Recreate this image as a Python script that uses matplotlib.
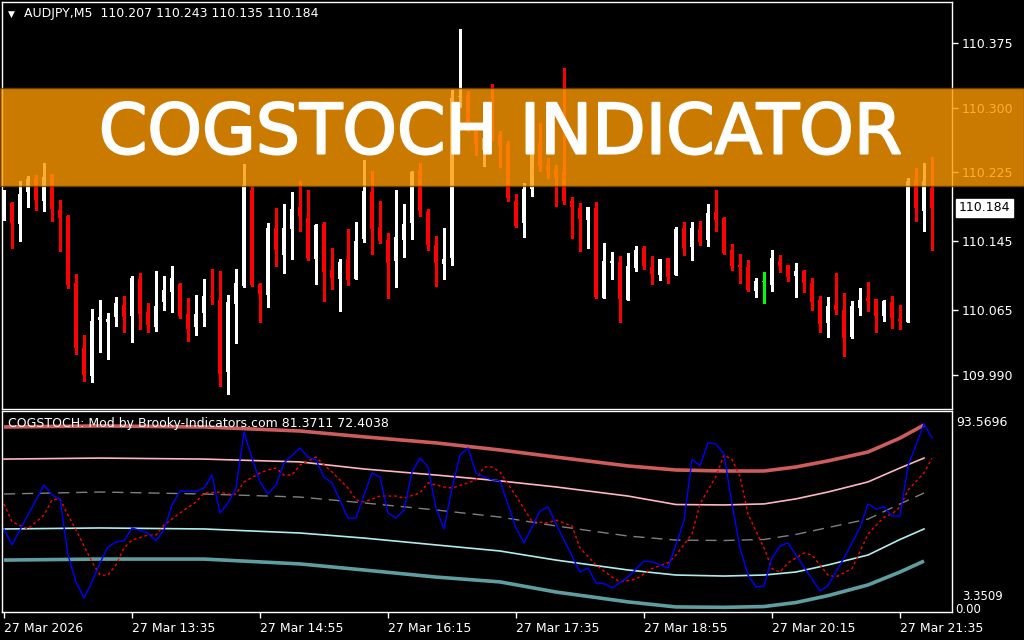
import numpy as np
import matplotlib.pyplot as plt
import matplotlib.patheffects as pe
from matplotlib.patches import Rectangle
from matplotlib.transforms import blended_transform_factory


W, H = 1024, 640

SYMBOL = 'AUDJPY,M5'
INDICATOR_NAME = 'COGSTOCH: Mod by Brooky-Indicators.com'
MAIN_LAST = 81.3711
SIGNAL_LAST = 72.4038
INDICATOR_MAX = 93.5696
INDICATOR_MIN = 3.3509
BANNER_TEXT = 'COGSTOCH INDICATOR'

OPEN = [
    110.173, 110.189, 110.165, 110.202, 110.218, 110.192, 110.222, 110.181, 110.174, 110.097,
    110.021, 109.989, 110.054, 110.051, 110.057, 110.071, 110.058, 110.101, 110.063, 110.046,
    110.075, 110.086, 110.095, 110.061, 110.046, 110.062, 110.082, 110.077, 109.993, 110.072,
    110.093, 110.204, 110.095, 110.083, 110.160, 110.129, 110.159, 110.185, 110.172, 110.124,
    110.165, 110.112, 110.101, 110.124, 110.101, 110.148, 110.202, 110.162, 110.146, 110.122,
    110.146, 110.166, 110.228, 110.179, 110.141, 110.119, 110.126, 110.312, 110.315, 110.274,
    110.251, 110.289, 110.268, 110.258, 110.192, 110.166, 110.206, 110.259, 110.233, 110.229,
    110.225, 110.192, 110.184, 110.170, 110.184, 110.079, 110.120, 110.121, 110.077, 110.114,
    110.137, 110.115, 110.106, 110.126, 110.106, 110.160, 110.138, 110.159, 110.146, 110.179,
    110.172, 110.135, 110.117, 110.115, 110.087, 110.098, 110.094, 110.122, 110.117, 110.105,
    110.110, 110.097, 110.077, 110.050, 110.071, 110.065, 110.034, 110.068, 110.079, 110.078,
    110.058, 110.075, 110.055, 110.051, 110.216, 110.180, 110.207,
]
HIGH = [
    110.204, 110.191, 110.215, 110.221, 110.222, 110.236, 110.223, 110.193, 110.175, 110.107,
    110.036, 110.066, 110.077, 110.062, 110.080, 110.082, 110.105, 110.108, 110.073, 110.110,
    110.105, 110.116, 110.097, 110.079, 110.083, 110.101, 110.113, 110.110, 110.083, 110.113,
    110.235, 110.209, 110.097, 110.166, 110.184, 110.188, 110.202, 110.215, 110.204, 110.165,
    110.167, 110.137, 110.124, 110.159, 110.167, 110.239, 110.227, 110.192, 110.155, 110.204,
    110.188, 110.227, 110.236, 110.182, 110.151, 110.160, 110.320, 110.391, 110.319, 110.282,
    110.274, 110.327, 110.273, 110.261, 110.200, 110.213, 110.268, 110.282, 110.242, 110.233,
    110.346, 110.196, 110.189, 110.185, 110.191, 110.143, 110.133, 110.128, 110.131, 110.139,
    110.139, 110.128, 110.124, 110.126, 110.162, 110.167, 110.167, 110.168, 110.188, 110.204,
    110.173, 110.142, 110.130, 110.123, 110.102, 110.109, 110.135, 110.129, 110.117, 110.120,
    110.112, 110.102, 110.082, 110.080, 110.108, 110.085, 110.076, 110.091, 110.098, 110.078,
    110.077, 110.082, 110.071, 110.218, 110.230, 110.236, 110.243,
]
LOW = [
    110.170, 110.137, 110.145, 110.185, 110.181, 110.180, 110.168, 110.134, 110.091, 110.014,
    109.983, 109.982, 110.017, 110.008, 110.047, 110.040, 110.028, 110.043, 110.040, 110.041,
    110.065, 110.063, 110.056, 110.029, 110.036, 110.047, 110.072, 109.977, 109.968, 110.027,
    110.092, 110.093, 110.051, 110.069, 110.116, 110.108, 110.124, 110.157, 110.123, 110.095,
    110.076, 110.090, 110.064, 110.094, 110.101, 110.144, 110.130, 110.143, 110.079, 110.092,
    110.127, 110.148, 110.174, 110.135, 110.093, 110.101, 110.117, 110.301, 110.273, 110.245,
    110.232, 110.262, 110.231, 110.192, 110.162, 110.150, 110.197, 110.227, 110.218, 110.186,
    110.188, 110.149, 110.134, 110.137, 110.079, 110.079, 110.101, 110.051, 110.077, 110.110,
    110.113, 110.095, 110.100, 110.097, 110.106, 110.129, 110.123, 110.141, 110.139, 110.157,
    110.130, 110.112, 110.097, 110.087, 110.080, 110.073, 110.087, 110.109, 110.099, 110.080,
    110.086, 110.065, 110.040, 110.034, 110.061, 110.012, 110.033, 110.059, 110.064, 110.040,
    110.053, 110.044, 110.043, 110.051, 110.168, 110.157, 110.135,
]
CLOSE = [
    110.191, 110.166, 110.200, 110.217, 110.193, 110.220, 110.182, 110.172, 110.094, 110.021,
    109.990, 110.053, 110.057, 110.055, 110.073, 110.057, 110.102, 110.061, 110.048, 110.070,
    110.088, 110.102, 110.058, 110.043, 110.061, 110.082, 110.080, 109.991, 110.075, 110.097,
    110.210, 110.094, 110.084, 110.160, 110.135, 110.160, 110.182, 110.174, 110.126, 110.164,
    110.109, 110.102, 110.121, 110.100, 110.145, 110.203, 110.159, 110.145, 110.120, 110.150,
    110.165, 110.225, 110.180, 110.141, 110.120, 110.124, 110.311, 110.314, 110.274, 110.258,
    110.265, 110.268, 110.256, 110.195, 110.163, 110.206, 110.261, 110.232, 110.227, 110.218,
    110.192, 110.185, 110.171, 110.185, 110.080, 110.122, 110.122, 110.078, 110.116, 110.135,
    110.116, 110.107, 110.124, 110.103, 110.159, 110.137, 110.160, 110.144, 110.178, 110.170,
    110.131, 110.116, 110.115, 110.088, 110.099, 110.098, 110.126, 110.116, 110.103, 110.110,
    110.097, 110.075, 110.049, 110.070, 110.065, 110.033, 110.070, 110.077, 110.076, 110.058,
    110.076, 110.056, 110.053, 110.215, 110.184, 110.215, 110.184,
]

PRICE_TICKS = [110.375, 110.300, 110.225, 110.145, 110.065, 109.990]
TIME_TICKS = [0, 16, 32, 48, 64, 80, 96, 112]
TIME_LABELS = ['27 Mar 2026', '27 Mar 13:35', '27 Mar 14:55', '27 Mar 16:15',
               '27 Mar 17:35', '27 Mar 18:55', '27 Mar 20:15', '27 Mar 21:35']

# CoG stochastic main line (blue), vertices as (bar, value)
MAIN_X = [0, 1, 5, 6, 7, 8, 9, 10, 11, 12, 13, 14, 15, 16, 18, 19, 20, 21, 22, 23,
          24, 25, 26, 27, 28, 29, 30, 31, 32, 33, 34, 35, 37, 38, 39, 40, 41, 43, 44, 45,
          46, 47, 48, 49, 50, 51, 52, 53, 54, 55, 56, 57, 58, 59, 60, 61, 62, 64, 65, 67,
          68, 69, 72, 73, 74, 75, 76, 78, 80, 81, 83, 85, 86, 87, 88, 89, 90, 91, 92, 93,
          94, 95, 96, 97, 98, 99, 101, 102, 103, 105, 107, 108, 109, 110, 111, 112, 113, 115, 116]
MAIN_Y = [41.1, 33.2, 62.9, 57.9, 55.9, 28.2, 14.9, 6.9, 14.9, 24.3, 32.2, 34.7, 35.2, 41.6, 39.1, 35.2, 40.6, 53.0, 59.9, 59.9,
          59.6, 61.4, 67.8, 49.0, 54.0, 61.4, 89.1, 76.2, 64.4, 58.4, 62.9, 73.8, 81.2, 76.7, 75.3, 66.8, 63.9, 46.5, 46.5, 57.9,
          68.8, 66.8, 49.0, 46.5, 50.5, 69.3, 76.2, 71.8, 51.5, 41.1, 61.4, 77.7, 81.2, 68.8, 66.8, 65.4, 64.9, 41.6, 34.2, 50.0,
          52.0, 43.6, 19.8, 21.8, 14.4, 14.1, 11.9, 17.3, 25.2, 24.8, 21.8, 45.1, 75.5, 72.5, 83.7, 83.2, 78.2, 53.5, 31.7, 18.3,
          12.4, 12.9, 26.7, 32.7, 34.2, 28.2, 16.3, 10.4, 13.1, 26.7, 41.8, 53.5, 51.0, 52.0, 47.5, 47.5, 72.3, 93.1, 86.1]

# signal line (red dotted)
SIGNAL_X = [0, 1, 3, 5, 6, 7, 8, 9, 11, 12, 13, 14, 15, 16, 18, 19, 20, 22, 24, 25,
            27, 28, 29, 30, 32, 33, 34, 35, 36, 37, 39, 40, 41, 43, 44, 45, 47, 49, 50, 52,
            53, 55, 56, 58, 59, 60, 61, 62, 64, 66, 68, 69, 71, 72, 74, 76, 77, 79, 81, 83,
            84, 86, 87, 89, 90, 91, 92, 93, 95, 96, 97, 98, 100, 101, 102, 103, 104, 106, 107, 108,
            110, 111, 112, 113, 115, 116]
SIGNAL_Y = [53.5, 44.6, 41.1, 48.0, 55.5, 55.9, 48.0, 40.6, 24.8, 18.3, 18.3, 23.3, 31.7, 35.6, 38.1, 38.1, 43.1, 49.0, 54.5, 58.9,
            59.4, 58.4, 58.4, 64.4, 68.8, 70.3, 71.3, 67.8, 67.8, 72.8, 76.7, 72.8, 69.3, 61.4, 55.5, 54.5, 57.4, 57.4, 56.4, 58.9,
            63.9, 61.9, 61.4, 63.9, 65.4, 71.8, 71.8, 69.3, 57.4, 44.8, 44.1, 45.5, 42.6, 31.7, 23.3, 17.3, 14.9, 16.3, 21.5, 24.3,
            28.2, 38.6, 53.5, 67.1, 77.7, 75.5, 67.1, 48.5, 31.7, 21.5, 19.8, 24.3, 29.2, 28.2, 23.3, 18.3, 17.3, 21.5, 29.9, 38.6,
            47.0, 48.5, 52.0, 60.4, 68.8, 76.2]

# envelope bands
BAND_X = [0, 12, 25, 37, 45, 54, 62, 69, 78, 84, 90, 95, 99, 103, 108, 112, 115]
BAND_UPPER = [91.6, 92.1, 91.6, 89.6, 86.7, 83.7, 80.2, 76.7, 72.3, 70.3, 69.8, 69.8, 71.8, 74.8, 79.2, 86.1, 92.6]
BAND_UPPER_IN = [75.7, 76.2, 75.7, 74.3, 70.8, 67.8, 64.9, 61.9, 57.4, 53.2, 53.0, 53.5, 56.0, 59.4, 64.4, 71.3, 76.2]
BAND_MID = [58.4, 59.4, 58.4, 56.9, 54.0, 50.5, 47.0, 42.6, 37.6, 35.6, 35.4, 35.9, 38.4, 41.8, 46.0, 53.5, 58.9]
BAND_LOWER_IN = [41.1, 41.6, 41.1, 39.1, 36.6, 33.2, 30.2, 25.7, 20.8, 18.3, 17.8, 18.3, 19.8, 23.3, 28.2, 35.9, 41.1]
BAND_LOWER = [25.7, 26.2, 26.2, 23.8, 20.8, 17.3, 14.9, 9.9, 5.0, 2.5, 2.3, 2.7, 4.7, 8.1, 13.4, 19.8, 25.2]

FONT = 9


def px_box(left, top, right, bottom):
    return [left / W, 1 - bottom / H, (right - left) / W, (bottom - top) / H]


def style_axes(ax):
    ax.set_facecolor('black')
    for s in ax.spines.values():
        s.set_color('white')
        s.set_linewidth(1)
    ax.set_xlim(-0.25, 118.5)


def draw_candles(ax):
    o = np.array(OPEN)
    c = np.array(CLOSE)
    hi = np.array(HIGH)
    lo = np.array(LOW)
    x = np.arange(len(o))
    colors = np.where(c > o, '#FFFFFF', np.where(c < o, '#FF0000', '#00FF00'))
    ax.vlines(x, lo, hi, colors=colors, linewidth=1, antialiased=False)
    body = np.maximum(np.abs(c - o), 0.0012)
    ax.bar(x, body, bottom=np.minimum(o, c), width=0.62, color=colors, linewidth=0)


def main():
    fig = plt.figure(figsize=(W / 100, H / 100), dpi=100, facecolor='black')

    # price window
    ax = fig.add_axes(px_box(2, 2, 952, 409))
    style_axes(ax)
    ax.set_ylim(109.9504, 110.4226)
    draw_candles(ax)
    ax.set_xticks([])
    ax.yaxis.tick_right()
    ax.set_yticks(PRICE_TICKS)
    ax.set_yticklabels([f'{p:.3f}' for p in PRICE_TICKS])
    ax.tick_params(axis='y', colors='white', length=4, width=1, pad=3, labelsize=FONT)

    trans = blended_transform_factory(ax.transAxes, ax.transData)
    ax.annotate(f'{CLOSE[-1]:.3f}', xy=(1, CLOSE[-1]), xycoords=trans,
                xytext=(5, 0), textcoords='offset points', ha='left', va='center',
                color='black', fontsize=FONT,
                bbox=dict(boxstyle='square,pad=0.2', facecolor='white', edgecolor='white'),
                annotation_clip=False)

    fig.text(8 / W, 1 - 14 / H, '\u25BC', color='white', fontsize=6.5, ha='left', va='center')
    head = f'{SYMBOL}  {OPEN[-1]:.3f} {HIGH[-1]:.3f} {LOW[-1]:.3f} {CLOSE[-1]:.3f}'
    fig.text(24 / W, 1 - 14 / H, head, color='white', fontsize=FONT, ha='left', va='center')

    # indicator window
    ax2 = fig.add_axes(px_box(2, 411, 952, 612))
    style_axes(ax2)
    ax2.set_ylim(0, 99.5)
    ax2.plot(BAND_X, BAND_UPPER, color='#CD5C5C', lw=2.6, solid_capstyle='butt')
    ax2.plot(BAND_X, BAND_UPPER_IN, color='#FFB6C1', lw=1.2)
    ax2.plot(BAND_X, BAND_MID, color='#808080', lw=1, linestyle=(0, (8, 5)))
    ax2.plot(BAND_X, BAND_LOWER_IN, color='#AFEEEE', lw=1.2)
    ax2.plot(BAND_X, BAND_LOWER, color='#5F9EA0', lw=2.6, solid_capstyle='butt')
    ax2.plot(SIGNAL_X, SIGNAL_Y, color='#FF0000', lw=1, linestyle=(0, (2, 2)))
    ax2.plot(MAIN_X, MAIN_Y, color='#0000FF', lw=1)

    ax2.set_yticks([])
    ax2.set_xticks(TIME_TICKS)
    ax2.set_xticklabels(TIME_LABELS, ha='left')
    ax2.tick_params(axis='x', colors='white', length=4, width=1, pad=3, labelsize=FONT)

    ax2.text(6 / 950, 1 - 12 / 201, f'{INDICATOR_NAME} {MAIN_LAST:.4f} {SIGNAL_LAST:.4f}',
             transform=ax2.transAxes, color='white', fontsize=FONT, ha='left', va='center')

    trans2 = blended_transform_factory(ax2.transAxes, ax2.transData)
    ax2.annotate(f'{INDICATOR_MAX:.4f}', xy=(1, INDICATOR_MAX), xycoords=trans2,
                 xytext=(3, 0), textcoords='offset points', ha='left', va='center',
                 color='white', fontsize=FONT, annotation_clip=False)
    # min label sits just above the zero label so the two stay readable
    ax2.annotate(f'{INDICATOR_MIN:.4f}', xy=(1, INDICATOR_MIN), xycoords=trans2,
                 xytext=(7, 6), textcoords='offset points', ha='left', va='center',
                 color='white', fontsize=FONT - 0.5, annotation_clip=False)
    ax2.annotate('0.00', xy=(1, 0), xycoords=trans2,
                 xytext=(2, 2), textcoords='offset points', ha='left', va='center',
                 color='white', fontsize=FONT - 0.5, annotation_clip=False)

    # orange title banner laid over the chart
    fig.add_artist(Rectangle((0, 1 - 186 / H), 1, 98 / H, transform=fig.transFigure,
                             facecolor='#FF9900', edgecolor='#6B4000', lw=1,
                             alpha=0.8, zorder=10))
    fig.text(501 / W, 1 - 134 / H, BANNER_TEXT, color='white', fontsize=50,
             ha='center', va='center', zorder=11,
             path_effects=[pe.withStroke(linewidth=1.5, foreground='white')])

    fig.savefig('out.png', dpi=100, facecolor='black')


if __name__ == '__main__':
    main()
